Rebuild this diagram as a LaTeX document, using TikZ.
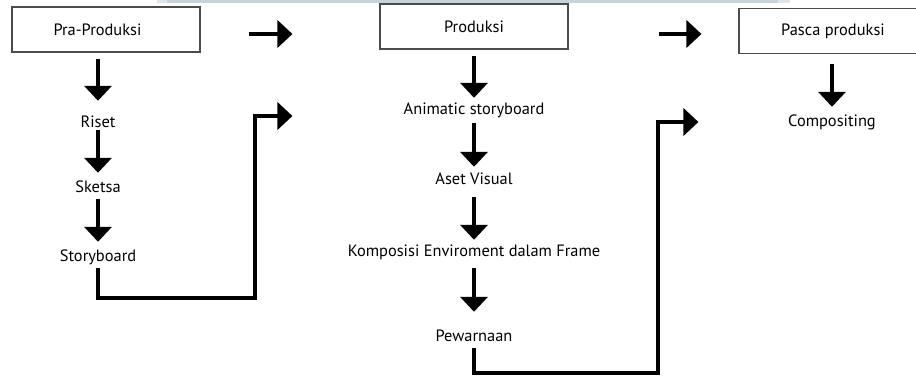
\documentclass[tikz,border=0pt]{standalone}
\usepackage{fontspec}
\setmainfont{PT Sans}
\usetikzlibrary{arrows.meta}
\definecolor{bandc}{HTML}{C4D4DB}
\definecolor{bandl}{HTML}{DCE6EA}
\begin{document}
\begin{tikzpicture}[x=1pt,y=-1pt,
  txt/.style={font=\fontsize{16.4}{19}\selectfont},
  box/.style={txt, draw=black!70, line width=1.1pt, minimum width=188pt, minimum height=45pt, inner sep=0pt},
  lbl/.style={txt, inner sep=0pt, anchor=base, text height=11pt, text depth=2pt},
  arr/.style={line width=4pt, line join=miter, -{Triangle[width=27pt,length=15pt]}}]
\useasboundingbox (0,0) rectangle (916,377);
% faint band at the top
\fill[bandl] (157,0) rectangle (790,3.5);
\fill[bandc] (167,0) rectangle (778,3.5);
% boxes
\node[box] (pra) at (106,29.5) {\hspace*{-17pt}Pra-Produksi};
\node[box] (prod) at (474,26.5) {Produksi};
\node[box] (pasca) at (833,31) {Pasca produksi};
% labels
\node[lbl] (riset) at (98,128) {Riset};
\node[lbl] (sketsa) at (98,193) {Sketsa};
\node[lbl] (story) at (98,261) {Storyboard};
\node[lbl] (anim) at (474,115) {Animatic storyboard};
\node[lbl] (aset) at (474,185) {Aset Visual};
\node[lbl] (komp) at (474,256) {Komposisi Enviroment dalam Frame};
\node[lbl] (pew) at (474,341) {Pewarnaan};
\node[lbl] (comp) at (832,127) {Compositing};
% vertical arrows
\draw[arr, shorten <=6pt, shorten >=16pt] (riset |- pra.south) -- (riset.north);
\draw[arr, shorten <=0pt, shorten >=9pt] (riset.south) -- (sketsa.north);
\draw[arr, shorten <=4pt, shorten >=8pt] (sketsa.south) -- (story.north);
\draw[arr, shorten <=6pt, shorten >=6pt] (prod.south) -- (anim.north);
\draw[arr, shorten <=6pt, shorten >=7pt] (anim.south) -- (aset.north);
\draw[arr, shorten <=10pt, shorten >=5pt] (aset.south) -- (komp.north);
\draw[arr, shorten <=10pt, shorten >=18pt] (komp.south) -- (pew.north);
\draw[arr, shorten <=10pt, shorten >=9pt] (comp |- pasca.south) -- (comp.north);
% horizontal arrows
\draw[arr, shorten <=48pt, shorten >=87pt] (pra.east |- 0,34) -- (prod.west |- 0,34);
\draw[arr, shorten <=90pt, shorten >=37pt] (prod.east |- 0,34) -- (pasca.west |- 0,34);
% elbow connectors
\draw[arr, shorten <=5pt, shorten >=87pt] (story.south) -- (story.south |- 0,298) -- (255,298) -- (255,116) -- (prod.west |- 0,116);
\draw[arr, shorten <=5pt, shorten >=40pt] (pew.south) -- (pew.south |- 0,373) -- (658,373) -- (658,122) -- (pasca.west |- 0,122);
\end{tikzpicture}
\end{document}
